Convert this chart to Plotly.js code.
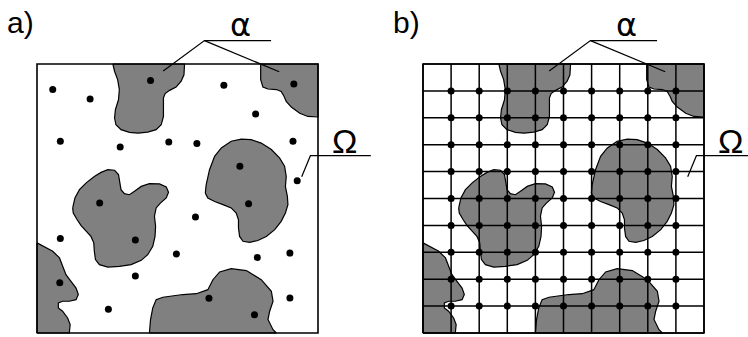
<!DOCTYPE html>
<html>
<head>
<meta charset="utf-8">
<script src="https://cdn.plot.ly/plotly-3.0.1.min.js"></script>
<style>html,body{margin:0;padding:0;background:#fff;}#chart{width:748px;height:337px;}</style>
</head>
<body>
<div id="chart"></div>
<script>
// Blob outlines (data units, frame spans 0..10 in both directions)
const blobTopX = [2.70,2.76,2.87,2.93,2.90,2.79,2.76,2.81,2.99,3.29,3.59,3.94,4.24,4.42,4.50,4.51,4.50,4.56,4.72,4.95,5.13,5.23,5.25,2.70];
const blobTopY = [10,9.73,9.42,9.05,8.67,8.30,7.99,7.74,7.56,7.46,7.43,7.47,7.56,7.74,8.05,8.43,8.74,8.90,9.02,9.14,9.36,9.60,10,10];

const blobCornerX = [7.96,7.96,8.04,8.22,8.52,8.69,8.79,8.87,9.05,9.35,9.64,10,10,7.96];
const blobCornerY = [10,9.42,9.14,9.07,9.05,8.98,8.80,8.61,8.40,8.17,8.05,8.03,10,10];

const blobHeartX = [1.27,1.35,1.51,1.75,2.04,2.28,2.52,2.76,2.90,2.96,2.99,3.11,3.29,3.47,3.71,4.00,4.36,4.60,4.68,4.60,4.39,4.24,4.18,4.22,4.20,4.12,3.94,3.71,3.35,2.93,2.52,2.22,2.08,2.04,2.02,1.92,1.75,1.57,1.43,1.29,1.27];
const blobHeartY = [4.65,5.02,5.33,5.58,5.82,5.97,6.07,6.05,5.89,5.58,5.33,5.18,5.14,5.27,5.45,5.55,5.54,5.43,5.23,5.02,4.83,4.65,4.34,3.97,3.59,3.22,2.91,2.70,2.54,2.48,2.45,2.54,2.73,3.04,3.35,3.59,3.78,3.99,4.21,4.46,4.65];

const blobRightX = [5.99,6.02,6.14,6.32,6.56,6.91,7.27,7.62,7.98,8.34,8.63,8.81,8.87,8.84,8.91,8.93,8.84,8.69,8.46,8.16,7.86,7.57,7.33,7.21,7.17,7.17,7.09,6.91,6.62,6.32,6.08,5.99];
const blobRightY = [5.20,5.51,6.07,6.57,6.88,7.13,7.21,7.19,7.06,6.82,6.51,6.20,5.82,5.45,5.08,4.77,4.46,4.15,3.84,3.59,3.44,3.37,3.41,3.59,3.90,4.21,4.46,4.65,4.77,4.89,5.02,5.20];

const blobLeftX = [0,0.26,0.56,0.80,0.91,1.03,1.21,1.39,1.47,1.39,1.15,0.91,0.76,0.76,0.91,1.09,1.18,1.15,0,0];
const blobLeftY = [3.35,3.22,3.04,2.79,2.48,2.17,1.92,1.67,1.43,1.24,1.18,1.18,1.12,0.93,0.81,0.56,0.31,0,0,3.35];

const blobBottomX = [4.00,4.04,4.12,4.24,4.48,4.89,5.19,5.67,6.08,6.26,6.50,6.91,7.45,7.98,8.34,8.40,8.28,8.22,8.40,8.52,4.00];
const blobBottomY = [0,0.50,0.93,1.24,1.33,1.40,1.43,1.46,1.61,1.98,2.27,2.39,2.32,1.98,1.55,1.18,0.81,0.50,0.12,0,0];

// Scattered points of panel a)
const dotsX = [0.56,1.89,4.04,6.65,9.14,7.78,0.83,2.96,4.69,5.69,9.11,7.22,9.26,2.23,7.53,5.64,0.83,3.50,4.96,7.84,9.00,3.50,0.81,2.54,6.12,9.00,7.74];
const dotsY = [9.05,8.70,9.39,9.21,9.26,8.14,7.13,6.91,7.10,7.04,7.13,6.20,5.66,4.83,4.80,4.31,3.51,3.46,2.94,2.81,2.97,2.12,1.87,0.88,1.29,1.30,0.68];

// Grid of panel b)
const gridLines = [0,1,2,3,4,5,6,7,8,9,10];
const gridNodes = [1,2,3,4,5,6,7,8,9];

// Frame
const frameX = [0,10,10,0,0];
const frameY = [0,0,10,10,0];

// Leader lines
const alphaLeadX = [4.49,5.96,8.33,null,5.96,8.62];
const alphaLeadY = [9.74,10.87,10.87,null,10.87,9.71];
const omegaLeadX = [9.42,9.73,11.88];
const omegaLeadY = [5.81,6.59,6.59];

// Labels
const panelLabels = ['a)','b)'];
const alphaText = 'α';
const omegaText = 'Ω';

const blobs = [
  [blobTopX, blobTopY], [blobCornerX, blobCornerY], [blobHeartX, blobHeartY],
  [blobRightX, blobRightY], [blobLeftX, blobLeftY], [blobBottomX, blobBottomY]
];

const traces = [];
const axesPairs = [['x','y'],['x2','y2']];

axesPairs.forEach(([xa, ya], idx) => {
  blobs.forEach(([bx, by]) => {
    traces.push({type:'scatter', mode:'lines', x:bx, y:by, xaxis:xa, yaxis:ya,
      fill:'toself', fillcolor:'#808080', line:{color:'#000', width:1.2},
      hoverinfo:'skip'});
  });
  if (idx === 1) {
    const gx = [], gy = [];
    gridLines.forEach(v => { gx.push(v, v, null); gy.push(0, 10, null); });
    gridLines.forEach(v => { gx.push(0, 10, null); gy.push(v, v, null); });
    traces.push({type:'scatter', mode:'lines', x:gx, y:gy, xaxis:xa, yaxis:ya,
      line:{color:'#000', width:1.5}, hoverinfo:'skip'});
    const nx = [], ny = [];
    gridNodes.forEach(i => gridNodes.forEach(j => { nx.push(i); ny.push(j); }));
    traces.push({type:'scatter', mode:'markers', x:nx, y:ny, xaxis:xa, yaxis:ya,
      marker:{color:'#000', size:7}, hoverinfo:'skip'});
  } else {
    traces.push({type:'scatter', mode:'markers', x:dotsX, y:dotsY, xaxis:xa, yaxis:ya,
      marker:{color:'#000', size:7}, hoverinfo:'skip'});
  }
  traces.push({type:'scatter', mode:'lines', x:frameX, y:frameY, xaxis:xa, yaxis:ya,
    line:{color:'#000', width:1.6}, hoverinfo:'skip'});
  traces.push({type:'scatter', mode:'lines', x:alphaLeadX, y:alphaLeadY, xaxis:xa, yaxis:ya,
    line:{color:'#000', width:1.2}, hoverinfo:'skip'});
  traces.push({type:'scatter', mode:'lines', x:omegaLeadX, y:omegaLeadY, xaxis:xa, yaxis:ya,
    line:{color:'#000', width:1.2}, hoverinfo:'skip'});
});

const font = {family:'Liberation Sans, Arial, sans-serif', size:30, color:'#000'};
const symFontA = {family:'DejaVu Sans, sans-serif', size:32, color:'#000'};
const symFontO = {family:'Liberation Sans, Arial, sans-serif', size:34, color:'#000'};
const annotations = [];
axesPairs.forEach(([xa, ya], idx) => {
  annotations.push({xref:xa, yref:ya, x:-0.60, y:11.56, text:panelLabels[idx], showarrow:false, font:font});
  annotations.push({xref:xa, yref:ya, x:7.25, y:11.45, text:alphaText, showarrow:false, font:symFontA});
  annotations.push({xref:xa, yref:ya, x:10.93, y:7.15, text:omegaText, showarrow:false, font:symFontO});
});

const hidden = {visible:false, showgrid:false, zeroline:false, fixedrange:true};
const layout = {
  width:748, height:337,
  margin:{l:0, r:0, t:0, b:0, pad:0},
  paper_bgcolor:'#fff', plot_bgcolor:'#fff',
  showlegend:false,
  xaxis:Object.assign({domain:[0,0.5], range:[-1.317, 11.993]}, hidden),
  yaxis:Object.assign({domain:[0,1], range:[-0.149, 12.379]}, hidden),
  xaxis2:Object.assign({domain:[0.5,1], range:[-1.744, 11.566]}, hidden),
  yaxis2:Object.assign({domain:[0,1], range:[-0.149, 12.379]}, hidden),
  annotations:annotations
};

Plotly.newPlot('chart', traces, layout, {staticPlot:true, displayModeBar:false});
</script>
</body>
</html>
